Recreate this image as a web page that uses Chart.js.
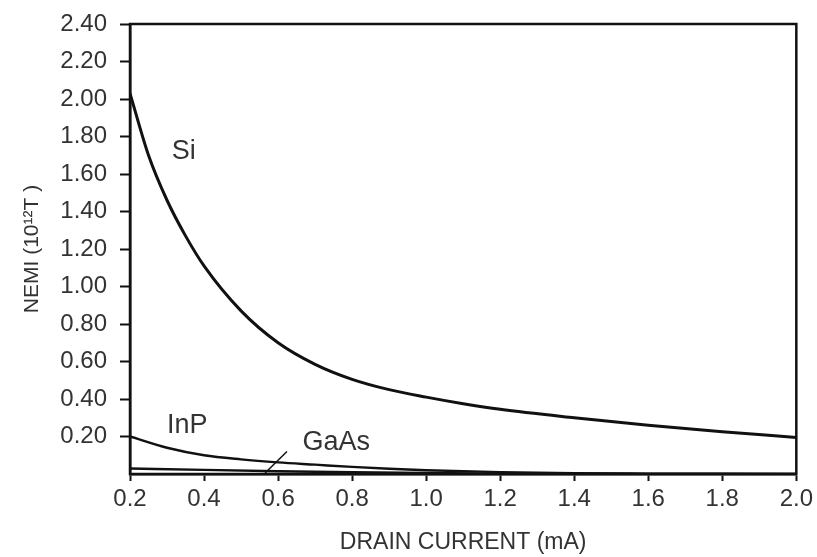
<!DOCTYPE html>
<html>
<head>
<meta charset="utf-8">
<script src="https://cdn.jsdelivr.net/npm/chart.js"></script>
<style>
  html, body { margin: 0; padding: 0; background: #fff; }
  #wrap { width: 817px; height: 557px; }
</style>
</head>
<body>
<div id="wrap"><canvas id="nemi" width="817" height="557"></canvas></div>
<script>
// drain current (mA) sample points for each curve
const currentSi   = [0.2, 0.25, 0.3, 0.35, 0.4, 0.5, 0.6, 0.7, 0.8, 0.9, 1.0, 1.1, 1.2, 1.4, 1.6, 1.8, 2.0];
const nemiSi      = [2.03, 1.70, 1.46, 1.27, 1.11, 0.87, 0.70, 0.585, 0.505, 0.45, 0.41, 0.375, 0.345, 0.30, 0.26, 0.225, 0.195];

const currentInP  = [0.2, 0.3, 0.4, 0.5, 0.6, 0.7, 0.8, 0.9, 1.0, 1.2, 1.4, 1.6, 1.8, 2.0];
const nemiInP     = [0.20, 0.14, 0.10, 0.078, 0.062, 0.05, 0.038, 0.028, 0.02, 0.01, 0.004, 0.002, 0.001, 0];

const currentGaAs = [0.2, 0.4, 0.6, 0.8, 1.0, 1.2, 1.4, 1.6, 1.8, 2.0];
const nemiGaAs    = [0.03, 0.022, 0.015, 0.009, 0.005, 0.002, 0, 0, 0, 0];

// curve names and where they sit (data units)
const curveLabels = [
  { text: 'Si',   x: 0.313, y: 1.72 },
  { text: 'InP',  x: 0.30,  y: 0.26 },
  { text: 'GaAs', x: 0.666, y: 0.17 }
];
// leader from the GaAs label down to its curve
const gaasLeader = { from: [0.624, 0.12], to: [0.565, 0.005] };

const FONT = '"Liberation Sans", Arial, sans-serif';
const INK = '#111';
const TEXT = '#333';

const toPoints = (xs, ys) => xs.map((x, i) => ({ x, y: ys[i] }));

const lineStyle = {
  borderColor: INK,
  borderWidth: 3,
  pointRadius: 0,
  fill: false,
  cubicInterpolationMode: 'monotone'
};

// box around the plot plus the curve names
const framePlugin = {
  id: 'frame',
  afterDraw(chart) {
    const { ctx, chartArea: a, scales } = chart;
    ctx.save();
    ctx.strokeStyle = INK;
    ctx.lineWidth = 2.5;
    ctx.strokeRect(a.left, a.top, a.right - a.left, a.bottom - a.top);

    ctx.fillStyle = TEXT;
    ctx.font = '27px ' + FONT;
    ctx.textAlign = 'left';
    ctx.textBaseline = 'middle';
    curveLabels.forEach(l => {
      ctx.fillText(l.text, scales.x.getPixelForValue(l.x), scales.y.getPixelForValue(l.y));
    });

    ctx.strokeStyle = INK;
    ctx.lineWidth = 1.5;
    ctx.beginPath();
    ctx.moveTo(scales.x.getPixelForValue(gaasLeader.from[0]), scales.y.getPixelForValue(gaasLeader.from[1]));
    ctx.lineTo(scales.x.getPixelForValue(gaasLeader.to[0]), scales.y.getPixelForValue(gaasLeader.to[1]));
    ctx.stroke();
    ctx.restore();
  }
};

new Chart(document.getElementById('nemi'), {
  type: 'line',
  data: {
    datasets: [
      { label: 'Si',   data: toPoints(currentSi, nemiSi),     ...lineStyle },
      { label: 'InP',  data: toPoints(currentInP, nemiInP),   ...lineStyle, borderWidth: 2.5 },
      { label: 'GaAs', data: toPoints(currentGaAs, nemiGaAs), ...lineStyle, borderWidth: 2.5 }
    ]
  },
  options: {
    responsive: false,
    animation: false,
    layout: { padding: { top: 24, right: 20, left: 0, bottom: 0 } },
    plugins: {
      legend: { display: false },
      tooltip: { enabled: false }
    },
    scales: {
      x: {
        type: 'linear',
        min: 0.2,
        max: 2.0,
        afterFit: s => { s.height = 83; },
        ticks: {
          stepSize: 0.2,
          color: TEXT,
          font: { family: FONT, size: 24 },
          padding: 4,
          maxRotation: 0,
          callback: v => v.toFixed(1)
        },
        grid: { display: true, drawOnChartArea: false, drawTicks: true, tickLength: 7, tickWidth: 2, tickColor: INK },
        border: { display: true, color: INK, width: 2.5 },
        title: {
          display: true,
          text: 'DRAIN CURRENT (mA)',
          color: TEXT,
          font: { family: FONT, size: 23 },
          padding: { top: 0, bottom: 1 }
        }
      },
      y: {
        type: 'linear',
        min: 0,
        max: 2.4,
        afterFit: s => { s.width = 130; s.paddingTop = 0; s.paddingBottom = 0; },
        ticks: {
          stepSize: 0.2,
          color: TEXT,
          font: { family: FONT, size: 24 },
          padding: 13,
          callback: v => (v === 0 ? '' : v.toFixed(2))
        },
        grid: {
          display: true,
          drawOnChartArea: false,
          drawTicks: true,
          tickLength: 10,
          tickWidth: 2,
          tickColor: c => (c.tick && c.tick.value === 0 ? 'rgba(0,0,0,0)' : INK)
        },
        border: { display: true, color: INK, width: 2.5 },
        title: {
          display: true,
          text: 'NEMI (10¹²T )',
          color: TEXT,
          font: { family: FONT, size: 21 },
          padding: { top: 20, bottom: 0 }
        }
      }
    }
  },
  plugins: [framePlugin]
});
</script>
</body>
</html>
